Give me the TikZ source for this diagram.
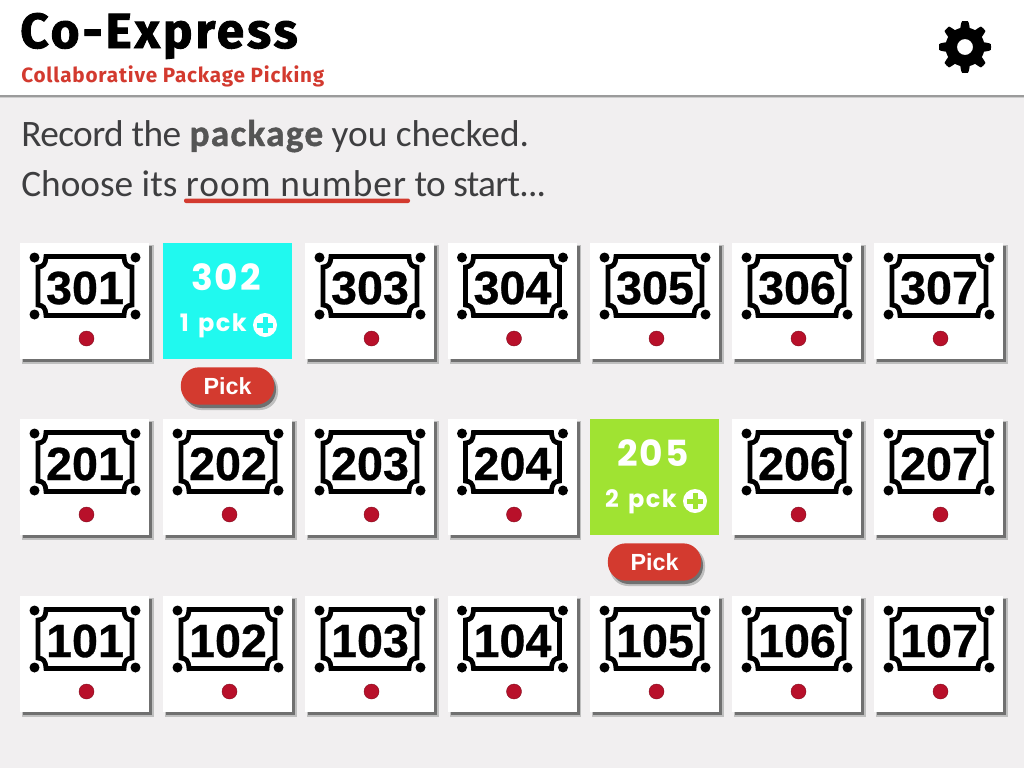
\documentclass[tikz,border=0pt]{standalone}
\usepackage{fontspec}
\setmainfont{Carlito}
\newfontfamily\titlefont{Fira Sans}[LetterSpace=6.2,BoldFeatures={FakeBold=1.8}]
\newfontfamily\subfont{Fira Sans}[LetterSpace=4]
\newfontfamily\bodyfont{Carlito}[BoldFeatures={FakeBold=1}]
\newfontfamily\roomfont{Liberation Sans}[BoldFeatures={FakeBold=0.6}]
\newfontfamily\pickfont{Liberation Sans}
\newfontfamily\handfont{Poppins}
\definecolor{bgc}{HTML}{F1EFF0}
\definecolor{redc}{HTML}{D33A2F}
\definecolor{dotc}{HTML}{B8102A}
\definecolor{shc}{HTML}{707070}
\definecolor{cyanc}{HTML}{20F9EF}
\definecolor{greenc}{HTML}{A0E332}
\definecolor{textc}{HTML}{3E3E40}
\definecolor{boldc}{HTML}{555555}
\tikzset{x=0.75pt,y=-0.75pt,
  tilebox/.style={rectangle,inner sep=0pt,minimum width=96.75pt,minimum height=87pt,fill=white},
  signline/.style={draw=black,line width=3.6pt},
  roomtext/.style={inner sep=0pt,font=\roomfont\bfseries\fontsize{35}{35}\selectfont},
  handbig/.style={inner sep=0pt,text=white,font=\handfont\bfseries\addfontfeature{LetterSpace=5}\fontsize{27}{27}\selectfont},
  handsmall/.style={inner sep=0pt,text=white,font=\handfont\bfseries\addfontfeature{LetterSpace=6}\fontsize{18}{18}\selectfont},
  pickbtn/.style={rectangle,rounded corners=13.5pt,inner sep=0pt,minimum width=70pt,minimum height=28pt,fill=redc,text=white,font=\pickfont\bfseries\fontsize{17.5}{17.5}\selectfont},
  linetext/.style={inner sep=0pt,anchor=base west,text=textc,font=\bodyfont\fontsize{28}{28}\selectfont}
}
\newcommand{\roomtile}[3]{%
  \fill[shc!45] (#2+2,#3+2) rectangle (#2+133.5,#3+120.5);
  \fill[shc] (#2+3,#3+3) rectangle (#2+132,#3+119);
  \node[tilebox,anchor=north west] (tile#1) at (#2,#3) {};
  \begin{scope}[shift={(#2+65,#3+43)}]
    \draw[signline] (-39,-29.5) -- (39,-29.5) .. controls (39.5,-21) and (42,-19.5) .. (47,-19)
      -- (47,19) .. controls (42,19.5) and (39.5,21) .. (39,29.5) -- (-39,29.5)
      .. controls (-39.5,21) and (-42,19.5) .. (-47,19) -- (-47,-19)
      .. controls (-42,-19.5) and (-39.5,-21) .. (-39,-29.5) -- cycle;
    \foreach \dx in {-50.5,50.5} \foreach \dy in {-28.5,28.5}
      \fill (\dx,\dy) circle[radius=5];
  \end{scope}
  \node[roomtext] (room#1) at (#2+65,#3+45) {#1};
  \node[circle,inner sep=0pt,minimum size=11.25pt,fill=dotc,draw=dotc!70!black,line width=0.3pt] (dot#1) at (#2+66.5,#3+95.5) {};
}
\newcommand{\activetile}[6]{%
  \node[tilebox,anchor=north west,fill=#4] (tile#1) at (#2,#3) {};
  \node[handbig] (room#1) at (#2+63,#3+34) {#1};
  \node[handsmall,anchor=base east] (count#1) at (#2+#6,#3+88) {#5};
  \node[circle,inner sep=0pt,minimum size=18pt,fill=white] (plus#1) at (#2+#6+18,#3+82) {};
  \fill[#4] (#2+#6+18-8,#3+82-2.5) rectangle (#2+#6+18+8,#3+82+2.5);
  \fill[#4] (#2+#6+18-2.5,#3+82-8) rectangle (#2+#6+18+2.5,#3+82+8);
  \fill[shc!45,rounded corners=13.5pt] (#2+20,#3+128) rectangle (#2+115,#3+167);
  \fill[shc,rounded corners=13.5pt] (#2+21,#3+128) rectangle (#2+113,#3+165);
  \node[pickbtn] (pick#1) at (#2+64.5,#3+143) {Pick};
}
\begin{document}
\begin{tikzpicture}
\useasboundingbox (0,0) rectangle (1024,768);
\fill[bgc] (0,0) rectangle (1024,768);
\fill[shc!35] (0,95) rectangle (1024,98);
\fill[shc!70] (0,95) rectangle (1024,96.5);
\fill[white] (0,0) rectangle (1024,95);
\node[inner sep=0pt,anchor=base west,font=\titlefont\bfseries\fontsize{37}{37}\selectfont] (title) at (20,48) {Co-Express};
\node[inner sep=0pt,anchor=base west,text=redc,font=\subfont\bfseries\fontsize{15.5}{15.5}\selectfont] (subtitle) at (21,82) {Collaborative Package Picking};
\begin{scope}[shift={(965,47)}]
\fill[even odd rule] plot[samples=180,domain=0:358,smooth cycle] (\x:{max(min(22+7*cos(8*\x),26),19.5)}) (0,0) circle[radius=8];
\end{scope}
\node[linetext] (line1) at (21,146) {{\addfontfeature{LetterSpace=-1.6}Record the} {\bfseries\color{boldc}\addfontfeature{LetterSpace=3.4}package} you checked.};
\node[linetext] (line2) at (21,196) {Choose its {\addfontfeature{LetterSpace=3}room number} {\addfontfeature{LetterSpace=-2}to start...}};
\fill[redc,rounded corners=1.5pt] (184,198.5) rectangle (410,203);
\foreach \n/\lx in {301/20,303/305,304/447.5,305/590,306/732,307/874}
  {\roomtile{\n}{\lx}{243}}
\foreach \n/\lx in {201/20,202/163,203/305,204/447.5,206/732,207/874}
  {\roomtile{\n}{\lx}{419}}
\foreach \n/\lx in {101/20,102/163,103/305,104/447.5,105/590,106/732,107/874}
  {\roomtile{\n}{\lx}{596}}
\activetile{302}{163}{243}{cyanc}{1\hspace{7pt}pck}{84}
\activetile{205}{590}{419}{greenc}{2\hspace{7pt}pck}{87}
\end{tikzpicture}
\end{document}
